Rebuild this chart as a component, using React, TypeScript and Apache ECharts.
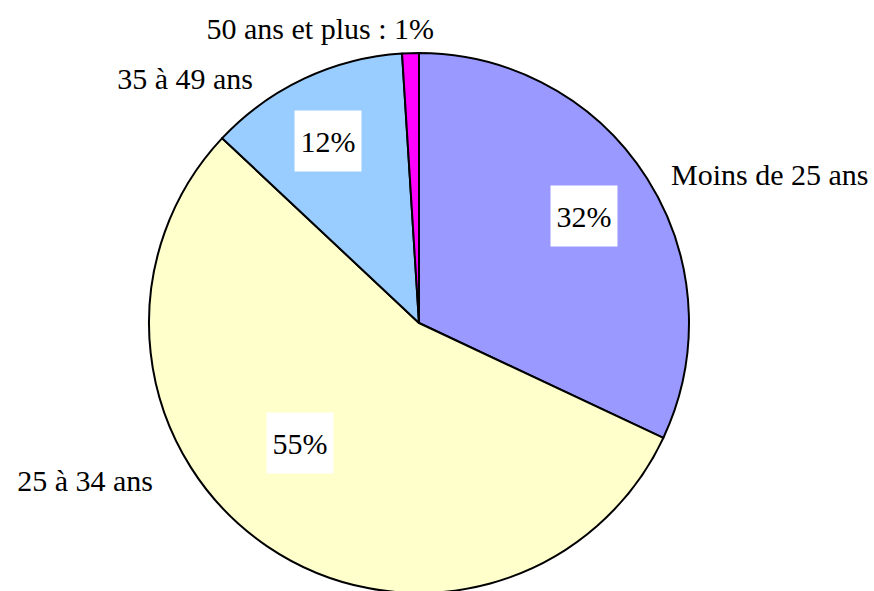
import React, { useEffect, useRef } from "react";
import * as echarts from "echarts";

const categories = ["Moins de 25 ans", "25 à 34 ans", "35 à 49 ans", "50 ans et plus"];
const values = [32, 55, 12, 1];
const colors = ["#9999FF", "#FFFFCC", "#99CCFF", "#FF00FF"];
const percentOutside = [false, false, false, true];

// label anchor positions (pixels) for outside and inside labels
const outsidePos = [
  { x: 671, y: 174, align: "left" },
  { x: 153, y: 480, align: "right" },
  { x: 253, y: 78, align: "right" },
  { x: 434, y: 28, align: "right" },
];
const insidePos = [
  { x: 584, y: 216 },
  { x: 300, y: 443 },
  { x: 328, y: 141 },
  { x: 0, y: 0 },
];

const FONT = "Times New Roman, Liberation Serif, serif";

export default function App() {
  const ref = useRef<HTMLDivElement>(null);
  useEffect(() => {
    document.body.style.margin = "0";
    const chart = echarts.init(ref.current!, undefined, { renderer: "svg" });
    const center = [419, 323];
    const radius = 270;
    chart.setOption({
      animation: false,
      backgroundColor: "#ffffff",
      textStyle: { fontFamily: FONT, fontSize: 30 },
      series: [
        {
          type: "pie",
          center,
          radius,
          startAngle: 90,
          clockwise: true,
          silent: true,
          itemStyle: { borderColor: "#000000", borderWidth: 2 },
          emphasis: { disabled: true },
          label: {
            show: true,
            position: "inside",
            formatter: (p: any) => `${p.value}%`,
            fontFamily: FONT,
            fontSize: 30,
            lineHeight: 31,
            color: "#000000",
            backgroundColor: "#ffffff",
            padding: [15, 6],
            align: "center",
            verticalAlign: "middle",
          },
          labelLine: { show: false },
          labelLayout: (p: any) => ({
            x: insidePos[p.dataIndex].x,
            y: insidePos[p.dataIndex].y,
            align: "center",
            verticalAlign: "middle",
            fontSize: 30,
          }),
          data: values.map((v, i) => ({
            name: categories[i],
            value: v,
            itemStyle: { color: colors[i] },
            label: { show: !percentOutside[i] },
          })),
        },
        {
          type: "pie",
          center,
          radius,
          startAngle: 90,
          clockwise: true,
          silent: true,
          itemStyle: { color: "rgba(0,0,0,0)", borderWidth: 0 },
          emphasis: { disabled: true },
          label: {
            show: true,
            position: "outside",
            formatter: (p: any) =>
              percentOutside[p.dataIndex] ? `${p.name} : ${p.value}%` : p.name,
            fontFamily: FONT,
            fontSize: 30,
            color: "#000000",
            overflow: "none",
            width: 400,
          },
          labelLine: { show: false },
          labelLayout: (p: any) => ({
            x: outsidePos[p.dataIndex].x,
            y: outsidePos[p.dataIndex].y,
            align: outsidePos[p.dataIndex].align,
            verticalAlign: "middle",
            fontSize: 30,
          }),
          data: values.map((v, i) => ({ name: categories[i], value: v })),
        },
      ],
    });
    return () => chart.dispose();
  }, []);
  return (
    <div
      ref={ref}
      style={{ position: "absolute", left: 0, top: 0, width: 874, height: 591 }}
    />
  );
}
